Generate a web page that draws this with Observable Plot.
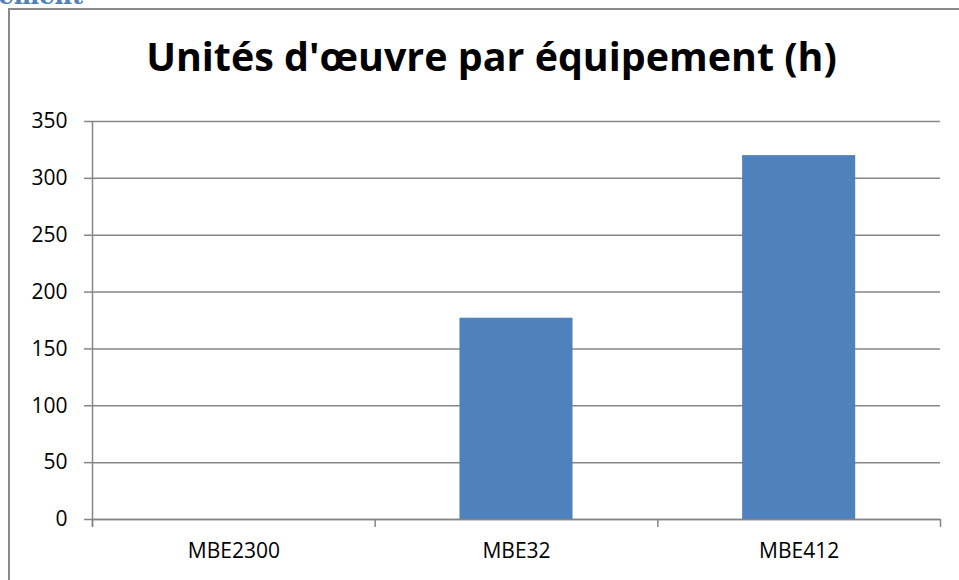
<!DOCTYPE html>
<html><head><meta charset="utf-8">
<script src="https://cdn.jsdelivr.net/npm/d3@7"></script>
<script src="https://cdn.jsdelivr.net/npm/@observablehq/plot@0.6"></script>
<style>
body{margin:0;width:959px;height:580px;overflow:hidden;position:relative;background:#fff;font-family:"Open Sans",sans-serif}
#frame{position:absolute;left:8px;top:8px;width:1000px;height:1000px;border:2px solid #8a8a8a;box-sizing:border-box}
#head{position:absolute;right:876px;top:-16px;font-family:"DejaVu Serif",serif;font-weight:bold;font-size:24px;color:#4f81bd;white-space:nowrap;line-height:24px}
#title{position:absolute;left:0;width:983px;text-align:center;font-weight:bold;white-space:nowrap}
#chart{position:absolute;left:0;top:0}
</style></head>
<body>
<div id="head">Équipement</div>
<div id="frame"></div>
<div id="chart"></div>
<div id="title">Unités d'œuvre par équipement (h)</div>
<script>
const categories = ["MBE2300", "MBE32", "MBE412"];
const values = [0, 177, 320];
const yTicks = [0, 50, 100, 150, 200, 250, 300, 350];
const titleText = "Unités d'œuvre par équipement (h)";

const data = categories.map((c, i) => ({category: c, i, value: values[i]}));
const gray = "#868686";

const chart = Plot.plot({
  width: 959, height: 580,
  marginLeft: 92, marginRight: 19, marginTop: 121, marginBottom: 61,
  x: {domain: [0, 3], axis: null},
  y: {domain: [0, 350], axis: null},
  style: {fontFamily: "'Open Sans', sans-serif", fontSize: "21px", color: "#000", background: "transparent"},
  marks: [
    Plot.gridY(yTicks, {stroke: gray, strokeOpacity: 1, strokeWidth: 1.5}),
    Plot.rectY(data, {x1: d => d.i + 0.3, x2: d => d.i + 0.7, y: "value", fill: "#4f81bd"}),
    Plot.ruleY([0], {stroke: gray, strokeWidth: 1.5}),
    Plot.ruleX([{x: 0, y1: 350, y2: 0}], {x: "x", y1: "y1", y2: "y2", stroke: gray, strokeWidth: 1.5, insetBottom: -8}),
    Plot.axisY(yTicks, {label: null, tickSize: 8, tickPadding: 17, stroke: gray, strokeWidth: 1.5, strokeOpacity: 1, fill: "#000", fontSize: 21}),
    Plot.axisX([0, 1, 2, 3], {label: null, tickSize: 8, tickFormat: () => "", stroke: gray, strokeWidth: 1.5, strokeOpacity: 1}),
    Plot.axisX([0.5, 1.5, 2.5], {label: null, tickSize: 0, tickPadding: 24, tickFormat: d => categories[Math.floor(d)], fill: "#000", fontSize: 21})
  ]
});
document.getElementById("chart").append(chart);

// fit title to reference width
const t = document.getElementById("title");
const ctx = document.createElement("canvas").getContext("2d");
ctx.font = "bold 100px 'Open Sans'";
const w = ctx.measureText(titleText).width;
const fs = 100 * 691 / w;
t.style.fontSize = fs + "px";
t.style.lineHeight = fs + "px";
t.style.top = (69 - fs * 0.80) + "px";
</script>
</body></html>
